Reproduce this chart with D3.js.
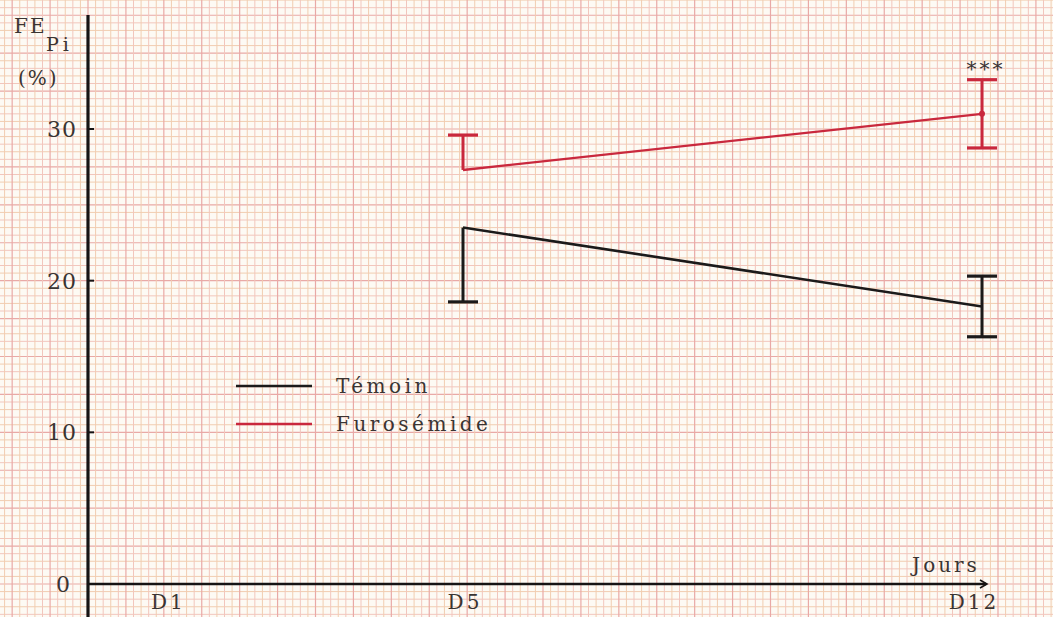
<!DOCTYPE html>
<html>
<head>
<meta charset="utf-8">
<script src="https://cdn.jsdelivr.net/npm/d3@7/dist/d3.min.js"></script>
<style>
  html, body { margin: 0; padding: 0; background: #fdfaf4; }
  svg { display: block; }
  text { font-family: "DejaVu Serif", "Liberation Serif", serif; fill: #3a3432; }
</style>
</head>
<body>
<svg id="chart" width="1053" height="617"></svg>
<script>
// Days of measurement and group means ± SEM for FE Pi (%)
const days = [5, 12];
const dayLabels = ["D1", "D5", "D12"];
const labelDays = [1, 5, 12];
const temoinMean = [23.5, 18.3];
const temoinSem = [4.9, 2.0];
const temoinSides = ["low", "both"];
const furoMean = [27.3, 31.0];
const furoSem = [2.3, 2.25];
const furoSides = ["high", "both"];
const yTicks = [10, 20, 30];
const seriesNames = ["Témoin", "Furosémide"];

const W = 1053, H = 617;
const svg = d3.select("#chart");

const x = d3.scaleLinear().domain([5, 12]).range([463, 982]);
const y = d3.scaleLinear().domain([0, 30]).range([584, 129]);
const axisX = 88;

// Graph paper: 1 mm squares (0.5 unit), stronger every 5 mm
const step = y(0) - y(0.5);
const gridColor = k => (k % 5 === 0) ? "#e9a9a6" : (k % 2 ? "#f1cdb0" : "#f2c6bd");
const grid = svg.append("g");
const hLines = d3.range(-6, Math.ceil(y(0) / step) + 2);
grid.selectAll("line.h").data(hLines).join("line")
  .attr("x1", 0).attr("x2", W)
  .attr("y1", k => y(k * 0.5)).attr("y2", k => y(k * 0.5))
  .attr("stroke", gridColor)
  .attr("stroke-width", k => (k % 5 === 0) ? 1.2 : 1);
const vLines = d3.range(-Math.ceil(axisX / step) - 1, Math.ceil((W - axisX) / step) + 2);
grid.selectAll("line.v").data(vLines).join("line")
  .attr("y1", 0).attr("y2", H)
  .attr("x1", k => axisX + k * step).attr("x2", k => axisX + k * step)
  .attr("stroke", gridColor)
  .attr("stroke-width", k => (k % 5 === 0) ? 1.2 : 1);

// Axes
const ink = "#161414";
svg.append("line").attr("x1", axisX).attr("x2", axisX).attr("y1", 15).attr("y2", H)
  .attr("stroke", ink).attr("stroke-width", 3.2);
svg.append("line").attr("x1", axisX).attr("x2", 986).attr("y1", y(0)).attr("y2", y(0))
  .attr("stroke", ink).attr("stroke-width", 2.4);
svg.append("path")
  .attr("d", `M980,${y(0) - 4} L987,${y(0)} L980,${y(0) + 4}`)
  .attr("fill", "none").attr("stroke", ink).attr("stroke-width", 1.6);

svg.selectAll("line.ytick").data(yTicks).join("line")
  .attr("x1", axisX).attr("x2", axisX + 6)
  .attr("y1", d => y(d)).attr("y2", d => y(d))
  .attr("stroke", ink).attr("stroke-width", 2);

svg.selectAll("text.ytick").data([0].concat(yTicks)).join("text")
  .attr("x", d => d === 0 ? 71 : 77).attr("y", d => y(d) + 8)
  .attr("text-anchor", "end").attr("font-size", 22).attr("letter-spacing", 1)
  .text(d => d);

svg.selectAll("text.xlab").data(labelDays).join("text")
  .attr("x", d => (d === 12 ? x(d) - 8 : x(d) + 2)).attr("y", 609)
  .attr("text-anchor", "middle").attr("font-size", 20).attr("letter-spacing", 3)
  .text((d, i) => dayLabels[i]);

svg.append("text").attr("x", 946).attr("y", 572).attr("text-anchor", "middle")
  .attr("font-size", 20).attr("letter-spacing", 3).text("Jours");

// Y axis title: FE with subscript Pi, then (%)
svg.append("text").attr("x", 14).attr("y", 33).attr("font-size", 20).attr("letter-spacing", 2).text("FE");
svg.append("text").attr("x", 46).attr("y", 51).attr("font-size", 19).attr("letter-spacing", 4).text("Pi");
svg.append("text").attr("x", 18).attr("y", 85).attr("font-size", 20).attr("letter-spacing", 2).text("(%)");

// Series
const black = "#1b1a1a", red = "#c9283d";
function drawSeries(means, sems, sides, color, lw) {
  const pts = days.map((d, i) => ({ d, m: means[i], s: sems[i], side: sides[i] }));
  svg.append("path").datum(pts)
    .attr("d", d3.line().x(p => x(p.d)).y(p => y(p.m)))
    .attr("fill", "none").attr("stroke", color).attr("stroke-width", lw);
  pts.forEach(p => {
    const hi = p.side === "low" ? p.m : p.m + p.s;
    const lo = p.side === "high" ? p.m : p.m - p.s;
    svg.append("line").attr("x1", x(p.d)).attr("x2", x(p.d))
      .attr("y1", y(hi)).attr("y2", y(lo))
      .attr("stroke", color).attr("stroke-width", 3);
    const caps = [];
    if (p.side !== "low") caps.push(hi);
    if (p.side !== "high") caps.push(lo);
    caps.forEach(c => {
      svg.append("line").attr("x1", x(p.d) - 15).attr("x2", x(p.d) + 15)
        .attr("y1", y(c)).attr("y2", y(c))
        .attr("stroke", color).attr("stroke-width", 3.2);
    });
  });
  return pts;
}
drawSeries(temoinMean, temoinSem, temoinSides, black, 2.6);
drawSeries(furoMean, furoSem, furoSides, red, 2.4);
svg.append("circle").attr("cx", x(12)).attr("cy", y(furoMean[1])).attr("r", 3).attr("fill", red);

// Significance marker
svg.append("text").attr("x", x(12) + 4).attr("y", 76).attr("text-anchor", "middle")
  .attr("font-size", 20).attr("letter-spacing", 3).text("***");

// Legend
const legendColors = [black, red];
const legendY = [386, 424];
seriesNames.forEach((n, i) => {
  svg.append("line").attr("x1", 236).attr("x2", 312)
    .attr("y1", legendY[i]).attr("y2", legendY[i])
    .attr("stroke", legendColors[i]).attr("stroke-width", 2.4);
  svg.append("text").attr("x", 336).attr("y", legendY[i] + 7)
    .attr("font-size", 20).attr("letter-spacing", 3.5).text(n);
});
</script>
</body>
</html>
